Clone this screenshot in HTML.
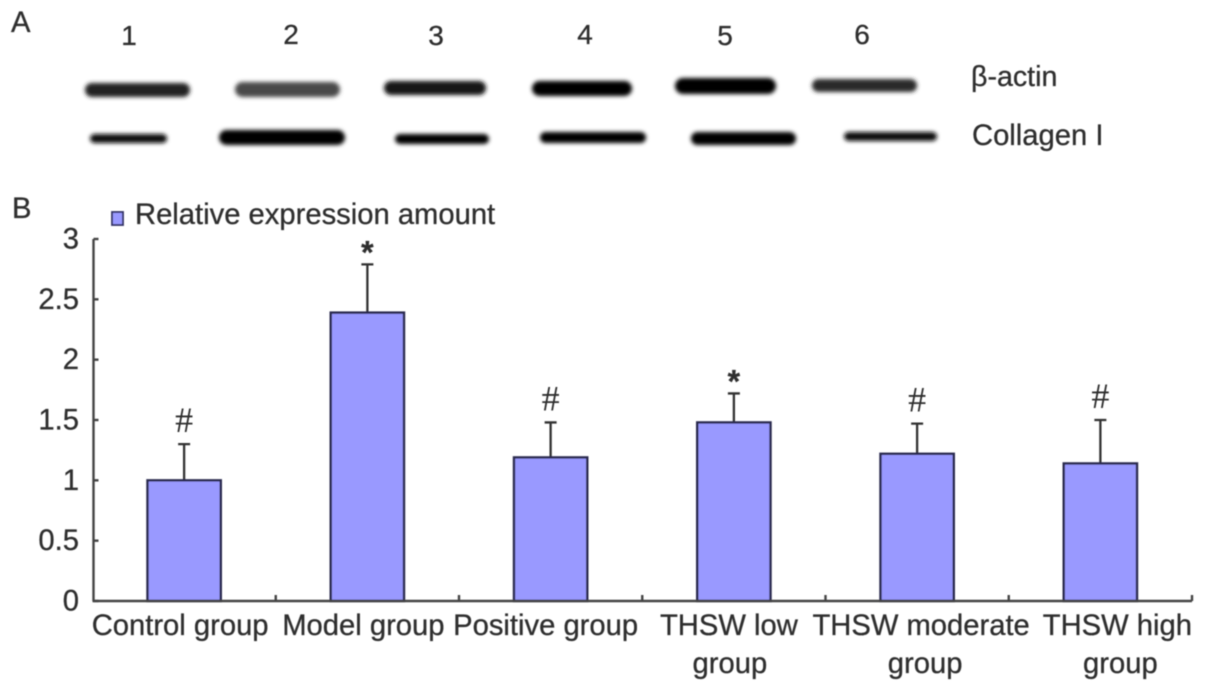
<!DOCTYPE html>
<html>
<head>
<meta charset="utf-8">
<style>
html,body{margin:0;padding:0;background:#fff;width:1205px;height:692px;overflow:hidden}
svg{display:block}
text{font-family:"Liberation Sans",sans-serif;font-size:29.2px;fill:#2e2e2e;stroke:#2e2e2e;stroke-width:0.3px}
</style>
</head>
<body>
<svg id="fig" width="1205" height="692" viewBox="0 0 1205 692" xmlns="http://www.w3.org/2000/svg">
<defs>
<filter id="bandBlur" x="-20%" y="-100%" width="140%" height="300%"><feGaussianBlur stdDeviation="2.2"/></filter>
<filter id="soft" x="-5%" y="-5%" width="110%" height="110%"><feGaussianBlur stdDeviation="0.5"/></filter>
</defs>
<g id="blot" filter="url(#bandBlur)">
<rect x="85" y="83" width="105" height="14" rx="7" fill="#222"/>
<rect x="235" y="82" width="105" height="15" rx="7.500" fill="#4a4a4a"/>
<rect x="384" y="81" width="102" height="14" rx="7" fill="#151515"/>
<rect x="532" y="81" width="100" height="15" rx="7.500" fill="#000"/>
<rect x="675" y="78" width="101" height="16" rx="8" fill="#000"/>
<rect x="812" y="79" width="105" height="13" rx="6.500" fill="#2a2a2a"/>
<rect x="90" y="134" width="77" height="9" rx="4.500" fill="#111"/>
<rect x="219" y="130" width="126" height="15" rx="7.500" fill="#000"/>
<rect x="395" y="134" width="94" height="10" rx="5" fill="#000"/>
<rect x="540" y="132" width="106" height="11" rx="5.500" fill="#000"/>
<rect x="691" y="132" width="105" height="13" rx="6.500" fill="#000"/>
<rect x="844" y="132" width="93" height="9" rx="4.500" fill="#111"/>
</g>
<g id="panelText" filter="url(#soft)">
<text x="11" y="32">A</text>
<text x="12" y="218">B</text>
<text x="129" y="45" text-anchor="middle" style="font-size:28px">1</text>
<text x="291" y="44" text-anchor="middle" style="font-size:28px">2</text>
<text x="436" y="45" text-anchor="middle" style="font-size:28px">3</text>
<text x="585" y="44" text-anchor="middle" style="font-size:28px">4</text>
<text x="725" y="45" text-anchor="middle" style="font-size:28px">5</text>
<text x="862" y="44" text-anchor="middle" style="font-size:28px">6</text>
<text x="971" y="86" style="font-size:28.6px">β-actin</text>
<text x="972" y="145">Collagen I</text>
<rect x="112" y="212" width="11" height="13" fill="#9999ff" stroke="#333366" stroke-width="1.800"/>
<text x="135" y="224">Relative expression amount</text>
</g>
<g id="chart" filter="url(#soft)"></g>
</svg>
<script>
const categories = [["Control group"], ["Model group"], ["Positive group"], ["THSW low", "group"], ["THSW moderate", "group"], ["THSW high", "group"]];
const values = [1.0, 2.39, 1.19, 1.48, 1.22, 1.14];
const errors = [0.3, 0.4, 0.29, 0.24, 0.25, 0.36];
const marks = ["#", "*", "#", "*", "#", "#"];
const yTicks = [0, 0.5, 1, 1.5, 2, 2.5, 3];

const NS = "http://www.w3.org/2000/svg";
const chart = document.getElementById("chart");
const left = 92.5, right = 1192, y0 = 601, yTop = 239, yMax = 3;
const yScale = v => y0 - (v / yMax) * (y0 - yTop);
const band = (right - left) / categories.length;
const xCenter = i => left + band * (i + 0.5);
const barWidth = band * 0.4;

function add(tag, attrs, text) {
  const el = document.createElementNS(NS, tag);
  for (const k in attrs) el.setAttribute(k, attrs[k]);
  if (text !== undefined) el.textContent = text;
  chart.appendChild(el);
  return el;
}
const axisStyle = { stroke: "#444", "stroke-width": 2.4, fill: "none" };

values.forEach((v, i) => {
  const cx = xCenter(i), top = yScale(v + errors[i]);
  const stem = add("path", { d: `M${cx} ${yScale(v)}V${top}M${cx - 6} ${top}H${cx + 6}`, stroke: "#333", "stroke-width": 2.3, fill: "none" });
  
  
  const bar = add("rect", { x: cx - barWidth / 2, y: yScale(v), width: barWidth, height: y0 - yScale(v), fill: "#9999ff", stroke: "#2c2c50", "stroke-width": 2.4 });
  
  
  const isStar = marks[i] === "*";
  const mark = add("text", { x: cx, y: top + (isStar ? -1 : -12), "text-anchor": "middle", style: isStar ? 'font-size:32px;font-weight:bold;font-family:"Liberation Sans",sans-serif' : 'font-size:36px;stroke-width:0;font-family:"Liberation Serif",serif' }, marks[i]);
  
  
});

const yAxis = add("path", Object.assign({ d: `M${left + 1} ${yTop}V${y0}` }, axisStyle));


const xAxis = add("path", Object.assign({ d: `M${left} ${y0}H${right}` }, axisStyle));



yTicks.forEach(t => {
  const y = yScale(t);
  const tick = add("path", Object.assign({ d: `M${left + 1} ${y}h5` }, axisStyle));
  
  
  const label = add("text", { x: 79, y: y + 9.500, "text-anchor": "end" }, String(t));
  
  
});

categories.forEach((lines, i) => {
  const edge = left + band * (i + 1);
  const tick = add("path", Object.assign({ d: `M${edge} ${y0}v-6` }, axisStyle));
  
  
  const nudge = [[-4], [-4], [-5], [-5, -4], [4, 8], [17, 20]][i];
  lines.forEach((line, j) => {
    const label = add("text", { x: xCenter(i) + nudge[j], y: 635 + j * 38, "text-anchor": "middle" }, line);
    
    
  });
});
</script>
</body>
</html>
